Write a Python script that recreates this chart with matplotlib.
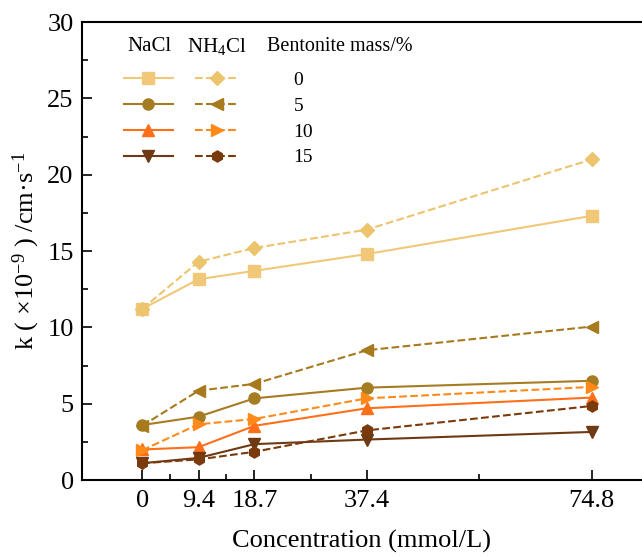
import numpy as np
import matplotlib
matplotlib.use('Agg')
import matplotlib.pyplot as plt
from matplotlib.ticker import FixedLocator, MultipleLocator

plt.rcParams['font.family'] = ['Liberation Serif', 'DejaVu Serif', 'Noto Sans CJK SC']
plt.rcParams['mathtext.fontset'] = 'custom'
plt.rcParams['mathtext.rm'] = 'Liberation Serif'
plt.rcParams['mathtext.it'] = 'Liberation Serif:italic'

conc = [0, 9.4, 18.7, 37.4, 74.8]
conc_minor = [4.7, 14.05, 28.05, 56.1]
bentonite = ['0', '5', '10', '15']

nacl = {
    '0': [11.2, 13.15, 13.7, 14.8, 17.3],
    '5': [3.6, 4.15, 5.35, 6.05, 6.5],
    '10': [2.0, 2.15, 3.55, 4.7, 5.4],
    '15': [1.1, 1.45, 2.35, 2.65, 3.15],
}
nh4cl = {
    '0': [11.2, 14.3, 15.2, 16.4, 21.0],
    '5': [3.55, 5.85, 6.3, 8.5, 10.05],
    '10': [1.95, 3.65, 4.0, 5.35, 6.1],
    '15': [1.1, 1.35, 1.85, 3.25, 4.85],
}

colors_nacl = ['#F0C878', '#A67C22', '#FF6F1A', '#6E3A14']
colors_nh4 = ['#ECC46E', '#A87A1E', '#FF8A1A', '#7A3A0C']
mk_nacl = ['s', 'o', '^', 'v']
mk_nh4 = ['D', '<', '>', 'h']

fig = plt.figure(figsize=(6.42, 5.57), dpi=100)
ax = fig.add_axes([0.1277, 0.1382, 0.8723, 0.8223])

h_nacl, h_nh4 = [], []
for i, b in enumerate(bentonite):
    l1, = ax.plot(conc, nacl[b], '-', color=colors_nacl[i], marker=mk_nacl[i],
                  markersize=8, lw=1.5)
    h_nacl.append(l1)
for i, b in enumerate(bentonite):
    l2, = ax.plot(conc, nh4cl[b], '--', color=colors_nh4[i], marker=mk_nh4[i],
                  markersize=8 if mk_nh4[i] != 'D' else 7, lw=1.5)
    h_nh4.append(l2)

ax.set_xlim(-10, 83.2)
ax.set_ylim(0, 30)
ax.xaxis.set_major_locator(FixedLocator(conc))
ax.xaxis.set_minor_locator(FixedLocator(conc_minor))
ax.set_xticklabels(['0', '9.4', '18.7', '37.4', '74.8'])
ax.yaxis.set_major_locator(MultipleLocator(5))
ax.yaxis.set_minor_locator(MultipleLocator(2.5))
ax.tick_params(which='both', direction='in', labelsize=19, width=1.2)
ax.tick_params(which='major', length=7, pad=7)
ax.tick_params(which='minor', length=4)
ax.tick_params(axis='y', pad=6)
ax.spines['right'].set_visible(False)
for s in ['left', 'bottom', 'top']:
    ax.spines[s].set_linewidth(1.5)

ax.set_xlabel('Concentration (mmol/L)', fontsize=19, labelpad=13)
ax.set_ylabel('k ( ×10$^{-9}$ ) /cm·s$^{-1}$', fontsize=19, labelpad=4)

# NaCl column: handles only
leg1 = ax.legend(h_nacl, [''] * 4, frameon=False, fontsize=14,
                 handlelength=2.5, handletextpad=0, labelspacing=0.42,
                 loc='upper left', bbox_to_anchor=(0.075, 0.892),
                 borderaxespad=0, borderpad=0)
ax.add_artist(leg1)
# NH4Cl column with bentonite mass labels
ax.legend(h_nh4, bentonite, frameon=False, fontsize=14,
          handlelength=2.3, handletextpad=2.8, labelspacing=0.42,
          loc='upper left', bbox_to_anchor=(0.201, 0.892),
          borderaxespad=0, borderpad=0)

ax.text(0.12, 0.946, 'NaCl', transform=ax.transAxes, fontsize=15, ha='center', va='center')
ax.text(0.24, 0.946, 'NH$_4$Cl', transform=ax.transAxes, fontsize=15, ha='center', va='center')
ax.text(0.33, 0.946, 'Bentonite mass/%', transform=ax.transAxes, fontsize=14.5, ha='left', va='center')

fig.savefig('out.png', dpi=100)
